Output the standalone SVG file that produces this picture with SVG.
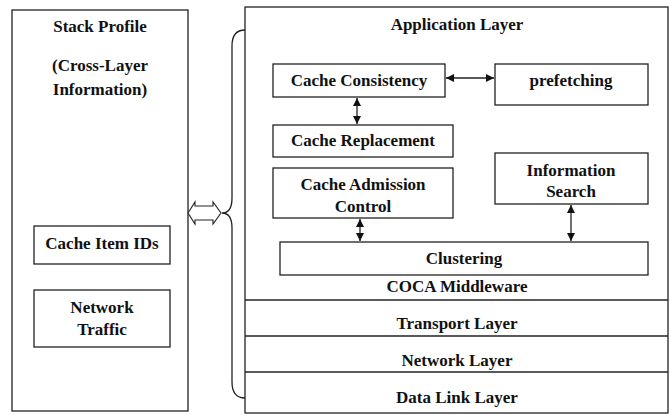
<svg xmlns="http://www.w3.org/2000/svg" width="671" height="415" viewBox="0 0 671 415">
<defs>
<marker id="ah" viewBox="0 0 10 10" refX="10" refY="5" markerWidth="8" markerHeight="8" markerUnits="userSpaceOnUse" orient="auto-start-reverse">
<path d="M0,0 L10,5 L0,10 z" fill="#111"/>
</marker>
<style>
rect{fill:#fff;stroke:#222;stroke-width:1.3}
text{font-family:"Liberation Serif","Times New Roman",serif;font-weight:bold;font-size:17px;fill:#111;text-anchor:middle;dominant-baseline:central}
.ln{stroke:#222;stroke-width:1.3;fill:none}
.c{stroke:#222;stroke-width:1.3;fill:none;marker-start:url(#ah);marker-end:url(#ah)}
</style>
</defs>
<rect x="0" y="0" width="671" height="415" style="fill:#fff;stroke:none"/>
<g id="stack-profile">
<rect x="12" y="10" width="176" height="401"/>
<text x="100" y="26">Stack Profile</text>
<text x="100" y="65">(Cross-Layer</text>
<text x="100" y="89">Information)</text>
</g>
<g id="cache-item-ids">
<rect x="34" y="226" width="136" height="38"/>
<text x="102" y="243">Cache Item IDs</text>
</g>
<g id="network-traffic">
<rect x="34" y="290" width="136" height="57"/>
<text x="102" y="307">Network</text>
<text x="102" y="329">Traffic</text>
</g>
<g id="stack">
<rect x="245" y="7" width="423" height="406"/>
<line class="ln" x1="245" y1="300" x2="668" y2="300"/>
<line class="ln" x1="245" y1="336" x2="668" y2="336"/>
<line class="ln" x1="245" y1="372" x2="668" y2="372"/>
<text x="457" y="24">Application Layer</text>
<text x="457" y="286">COCA Middleware</text>
<text x="457" y="323">Transport Layer</text>
<text x="457" y="360">Network Layer</text>
<text x="457" y="397">Data Link Layer</text>
</g>
<g id="cache-consistency">
<rect x="273" y="64" width="172" height="33"/>
<text x="359" y="80">Cache Consistency</text>
</g>
<g id="prefetching">
<rect x="495" y="64" width="153" height="41"/>
<text x="571" y="80">prefetching</text>
</g>
<g id="cache-replacement">
<rect x="273" y="125" width="180" height="32"/>
<text x="363" y="140">Cache Replacement</text>
</g>
<g id="cache-admission-control">
<rect x="273" y="168" width="180" height="50"/>
<text x="363" y="184">Cache Admission</text>
<text x="363" y="206">Control</text>
</g>
<g id="information-search">
<rect x="495" y="153" width="153" height="51"/>
<text x="571" y="170">Information</text>
<text x="571" y="191">Search</text>
</g>
<g id="clustering">
<rect x="280" y="242" width="368" height="33"/>
<text x="464" y="258">Clustering</text>
</g>
<g id="connectors">
<line class="c" x1="446" y1="78" x2="494" y2="78"/>
<line class="c" x1="357" y1="98" x2="357" y2="124"/>
<line class="c" x1="360" y1="219" x2="360" y2="241"/>
<line class="c" x1="571" y1="205" x2="571" y2="241"/>
<path class="ln" d="M245,30 C236,30 232,36 232,46 L232,198 C232,207 229,213 222,213 C229,213 232,219 232,228 L232,382 C232,392 236,398 245,398" stroke-width="1.1"/>
<path d="M188,213 L195,202 L195,206 L213,206 L213,202 L221,213 L213,224 L213,220 L195,220 L195,224 z" fill="#fff" stroke="#222" stroke-width="1.1"/>
</g>
</svg>
